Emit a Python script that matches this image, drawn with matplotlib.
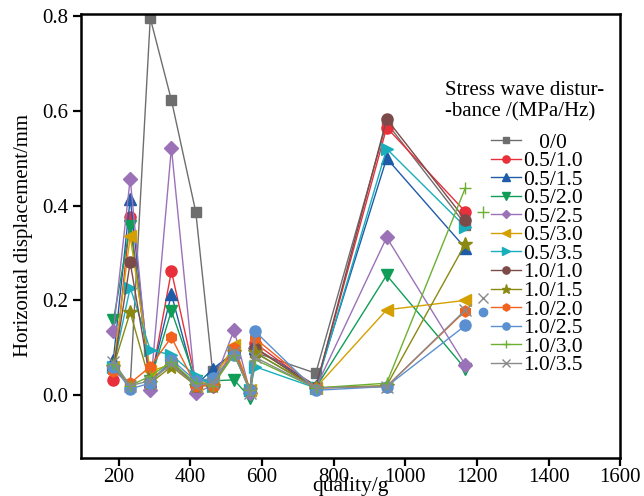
import matplotlib
matplotlib.use("Agg")
import matplotlib.pyplot as plt

plt.rcParams['font.family'] = ['Liberation Serif', 'DejaVu Serif']
plt.rcParams['mathtext.fontset'] = 'stix'

quality = [185, 232, 288, 347, 415, 462, 522, 567, 580, 750, 948, 1168]

labels = ["0/0", "0.5/1.0", "0.5/1.5", "0.5/2.0", "0.5/2.5", "0.5/3.0", "0.5/3.5",
          "1.0/1.0", "1.0/1.5", "1.0/2.0", "1.0/2.5", "1.0/3.0", "1.0/3.5"]

s_0_0   = [0.060, 0.020, 0.796, 0.623, 0.387, 0.050, 0.090, 0.010, 0.090, 0.046, 0.575, 0.360]
s_05_10 = [0.032, 0.375, 0.020, 0.262, 0.030, 0.020, 0.090, 0.010, 0.110, 0.015, 0.565, 0.387]
s_05_15 = [0.075, 0.415, 0.030, 0.213, 0.020, 0.055, 0.090, 0.010, 0.100, 0.020, 0.500, 0.310]
s_05_20 = [0.158, 0.358, 0.030, 0.178, 0.030, 0.030, 0.032, -0.006, 0.090, 0.015, 0.253, 0.055]
s_05_25 = [0.135, 0.457, 0.010, 0.522, 0.005, 0.020, 0.137, 0.005, 0.100, 0.015, 0.333, 0.063]
s_05_30 = [0.060, 0.335, 0.050, 0.065, 0.020, 0.030, 0.105, 0.010, 0.100, 0.015, 0.180, 0.200]
s_05_35 = [0.060, 0.227, 0.095, 0.085, 0.040, 0.020, 0.090, 0.010, 0.060, 0.015, 0.520, 0.355]
s_10_10 = [0.055, 0.280, 0.030, 0.070, 0.020, 0.020, 0.090, 0.010, 0.100, 0.015, 0.583, 0.370]
s_10_15 = [0.060, 0.175, 0.025, 0.060, 0.020, 0.020, 0.090, 0.010, 0.090, 0.015, 0.020, 0.320]
s_10_20 = [0.050, 0.025, 0.060, 0.122, 0.020, 0.020, 0.100, 0.010, 0.120, 0.015, 0.018, 0.178]
s_10_25 = [0.060, 0.013, 0.025, 0.075, 0.030, 0.035, 0.085, 0.010, 0.135, 0.010, 0.018, 0.147]
s_10_30 = [0.065, 0.020, 0.040, 0.070, 0.025, 0.020, 0.085, 0.010, 0.075, 0.015, 0.025, 0.438]
s_10_35 = [0.070, 0.020, 0.030, 0.065, 0.020, 0.025, 0.090, 0.005, 0.080, 0.015, 0.018, 0.180]

series = [s_0_0, s_05_10, s_05_15, s_05_20, s_05_25, s_05_30, s_05_35,
          s_10_10, s_10_15, s_10_20, s_10_25, s_10_30, s_10_35]

# stray markers near the right end
extra_x = [1218, 1218, 1218]
extra_y = [0.387, 0.204, 0.175]

colors = ["#6e6e6e", "#e8303a", "#1f5ca8", "#0f9d58", "#9b72b8", "#d4a000", "#19aebb",
          "#7d4a4a", "#8a8a12", "#f0621e", "#5b90d0", "#6cb030", "#8a8a8a"]
markers = ["s", "o", "^", "v", "D", "<", ">", "o", "*", "h", "o", "+", "x"]
msizes = [7, 8, 8, 8, 7, 8, 8, 8, 10, 8, 8, 9, 8]

fig = plt.figure(figsize=(6.44, 4.96), dpi=100)
ax = fig.add_axes([0.126, 0.0766, 0.837, 0.8954])

for lab, ys, c, m, ms in zip(labels, series, colors, markers, msizes):
    lab_txt = "   " + lab if lab == "0/0" else lab
    ax.plot(quality, ys, color=c, marker=m, markersize=ms, linewidth=1.0,
            label=lab_txt, markeredgecolor=c, markeredgewidth=1.0)

ax.plot(extra_x[0], extra_y[0], linestyle="none", marker="+", color=colors[11], markersize=8)
ax.plot(extra_x[1], extra_y[1], linestyle="none", marker="x", color=colors[12], markersize=7)
ax.plot(extra_x[2], extra_y[2], linestyle="none", marker="o", color=colors[10], markersize=6)

ax.set_xlim(95, 1600)
ax.set_ylim(-0.133, 0.805)
ax.set_xticks([200, 400, 600, 800, 1000, 1200, 1400, 1600])
ax.set_yticks([0.0, 0.2, 0.4, 0.6, 0.8])
ax.set_yticklabels(["0.0", "0.2", "0.4", "0.6", "0.8"])
ax.tick_params(axis="both", direction="out", length=6, width=1.6, labelsize=15,
               top=False, right=False)
ax.tick_params(axis="x", pad=1.0)
for sp in ax.spines.values():
    sp.set_linewidth(1.8)

ax.set_xlabel("quality/g", fontsize=15.5)
ax.xaxis.set_label_coords(0.5, -0.042)
ax.set_ylabel("Horizontal displacement/mm", fontsize=15, labelpad=6)

ax.text(0.675, 0.848, "Stress wave distur-\n-bance /(MPa/Hz)", transform=ax.transAxes,
        fontsize=15, ha="left", va="top", linespacing=1.15)

leg = ax.legend(loc="upper right", bbox_to_anchor=(0.93, 0.733), frameon=False,
                fontsize=15.5, labelspacing=-0.07, handlelength=1.35,
                handletextpad=0.1, markerscale=0.65, borderaxespad=0.0,
                borderpad=0.0)

fig.savefig("out.png", dpi=100)
